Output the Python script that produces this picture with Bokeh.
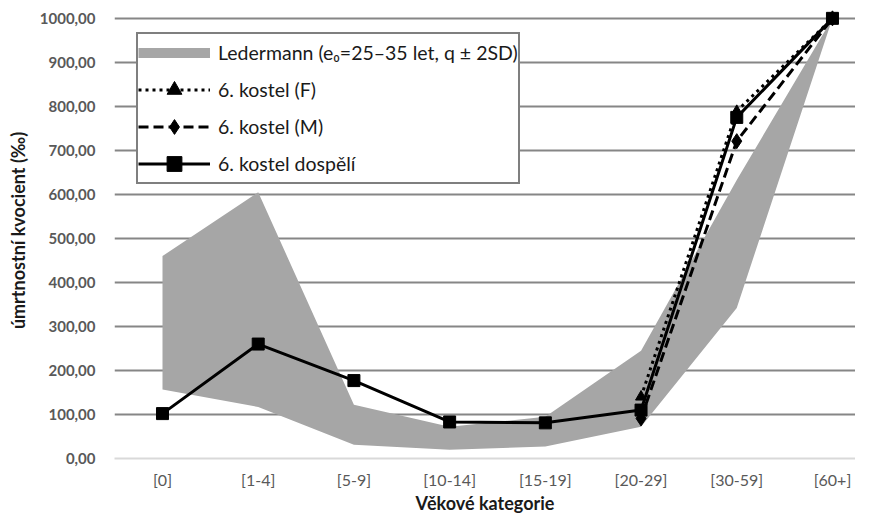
from bokeh.plotting import figure
from bokeh.models import FixedTicker, Legend, LegendItem, Range1d
from bokeh.embed import file_html
from bokeh.resources import INLINE

# ---- data ----
categories = ["[0]", "[1-4]", "[5-9]", "[10-14]", "[15-19]", "[20-29]", "[30-59]", "[60+]"]
cat_pos = [0, 1, 2, 3, 4, 5, 6, 7]

ledermann_upper = [460, 605, 122, 72, 95, 245, 633, 1000]
ledermann_lower = [157, 117, 31, 20, 27, 72, 342, 1000]

dospeli = [102, 260, 177, 83, 81, 110, 775, 1000]

adult_pos = [5, 6, 7]
kostel_f = [140, 789, 1000]
kostel_m = [91, 721, 1000]

y_ticks = [0, 100, 200, 300, 400, 500, 600, 700, 800, 900, 1000]
y_tick_labels = ["0,00", "100,00", "200,00", "300,00", "400,00", "500,00",
                 "600,00", "700,00", "800,00", "900,00", "1000,00"]

FONT = "Lato"
BAND = "#a6a6a6"
NAN = float("nan")

p = figure(width=855, height=516, output_backend="svg", toolbar_location=None,
           x_range=Range1d(-0.5015, 7.2407), y_range=Range1d(0, 1036),
           min_border_left=114, min_border_right=0, min_border_top=2, min_border_bottom=56)
p.outline_line_color = None
p.background_fill_color = "white"

# grid
p.xgrid.grid_line_color = None
p.ygrid.ticker = FixedTicker(ticks=y_ticks[1:])
p.ygrid.grid_line_color = "#868686"
p.ygrid.grid_line_width = 2

# x axis
p.xaxis.ticker = FixedTicker(ticks=cat_pos)
p.xaxis.major_label_overrides = {i: c for i, c in zip(cat_pos, categories)}
p.xaxis.axis_line_color = "#d9d9d9"
p.xaxis.axis_line_width = 2
p.xaxis.major_tick_line_color = None
p.xaxis.minor_tick_line_color = None
p.xaxis.major_label_standoff = 5
p.xaxis.major_label_text_font = FONT
p.xaxis.major_label_text_font_size = "16px"
p.xaxis.major_label_text_color = "#595959"
p.xaxis.axis_label = "Věkové kategorie"
p.xaxis.axis_label_text_font = FONT
p.xaxis.axis_label_text_font_style = "bold"
p.xaxis.axis_label_text_font_size = "18px"
p.xaxis.axis_label_text_color = "#1a1a1a"
p.xaxis.axis_label_standoff = 0

# y axis
p.yaxis.ticker = FixedTicker(ticks=y_ticks)
p.yaxis.major_label_overrides = {t: l for t, l in zip(y_ticks, y_tick_labels)}
p.yaxis.axis_line_color = None
p.yaxis.major_tick_line_color = None
p.yaxis.minor_tick_line_color = None
p.yaxis.major_label_standoff = 13
p.yaxis.major_label_text_font = FONT
p.yaxis.major_label_text_font_style = "bold"
p.yaxis.major_label_text_font_size = "15px"
p.yaxis.major_label_text_color = "#595959"
p.yaxis.axis_label = "úmrtnostní kvocient (‰)"
p.yaxis.axis_label_text_font = FONT
p.yaxis.axis_label_text_font_style = "bold"
p.yaxis.axis_label_text_font_size = "18px"
p.yaxis.axis_label_text_color = "#1a1a1a"
p.yaxis.axis_label_standoff = 8

# band
band = p.varea(x=cat_pos, y1=ledermann_lower, y2=ledermann_upper, fill_color=BAND)
band_key = p.line(x=[NAN], y=[NAN], line_color=BAND, line_width=10)

# lines
m_line = p.line(adult_pos, kostel_m, line_color="black", line_width=3, line_dash="10 5")
m_pts = p.scatter(adult_pos, kostel_m, marker="diamond", size=15, color="black")
f_line = p.line(adult_pos, kostel_f, line_color="black", line_width=3, line_dash="3 4")
f_pts = p.scatter(adult_pos, kostel_f, marker="triangle", size=11, color="black")
d_line = p.line(cat_pos, dospeli, line_color="black", line_width=3)
d_pts = p.scatter(cat_pos, dospeli, marker="square", size=12, color="black")

legend = Legend(items=[
    LegendItem(label="Ledermann (e₀=25–35 let, q ± 2SD)", renderers=[band_key]),
    LegendItem(label="6. kostel (F)", renderers=[f_line, f_pts]),
    LegendItem(label="6. kostel (M)", renderers=[m_line, m_pts]),
    LegendItem(label="6. kostel dospělí", renderers=[d_line, d_pts]),
], location=(22, 274))
legend.padding = 0
legend.spacing = 0
legend.margin = 0
legend.glyph_width = 72
legend.glyph_height = 37
legend.label_height = 37
legend.label_standoff = 8
legend.label_text_font = FONT
legend.label_text_font_size = "19.5px"
legend.label_text_color = "#1a1a1a"
legend.border_line_color = "black"
legend.border_line_width = 2
legend.background_fill_color = "white"
legend.background_fill_alpha = 1.0
p.add_layout(legend, "center")

open("out.html", "w").write(file_html(p, INLINE))
